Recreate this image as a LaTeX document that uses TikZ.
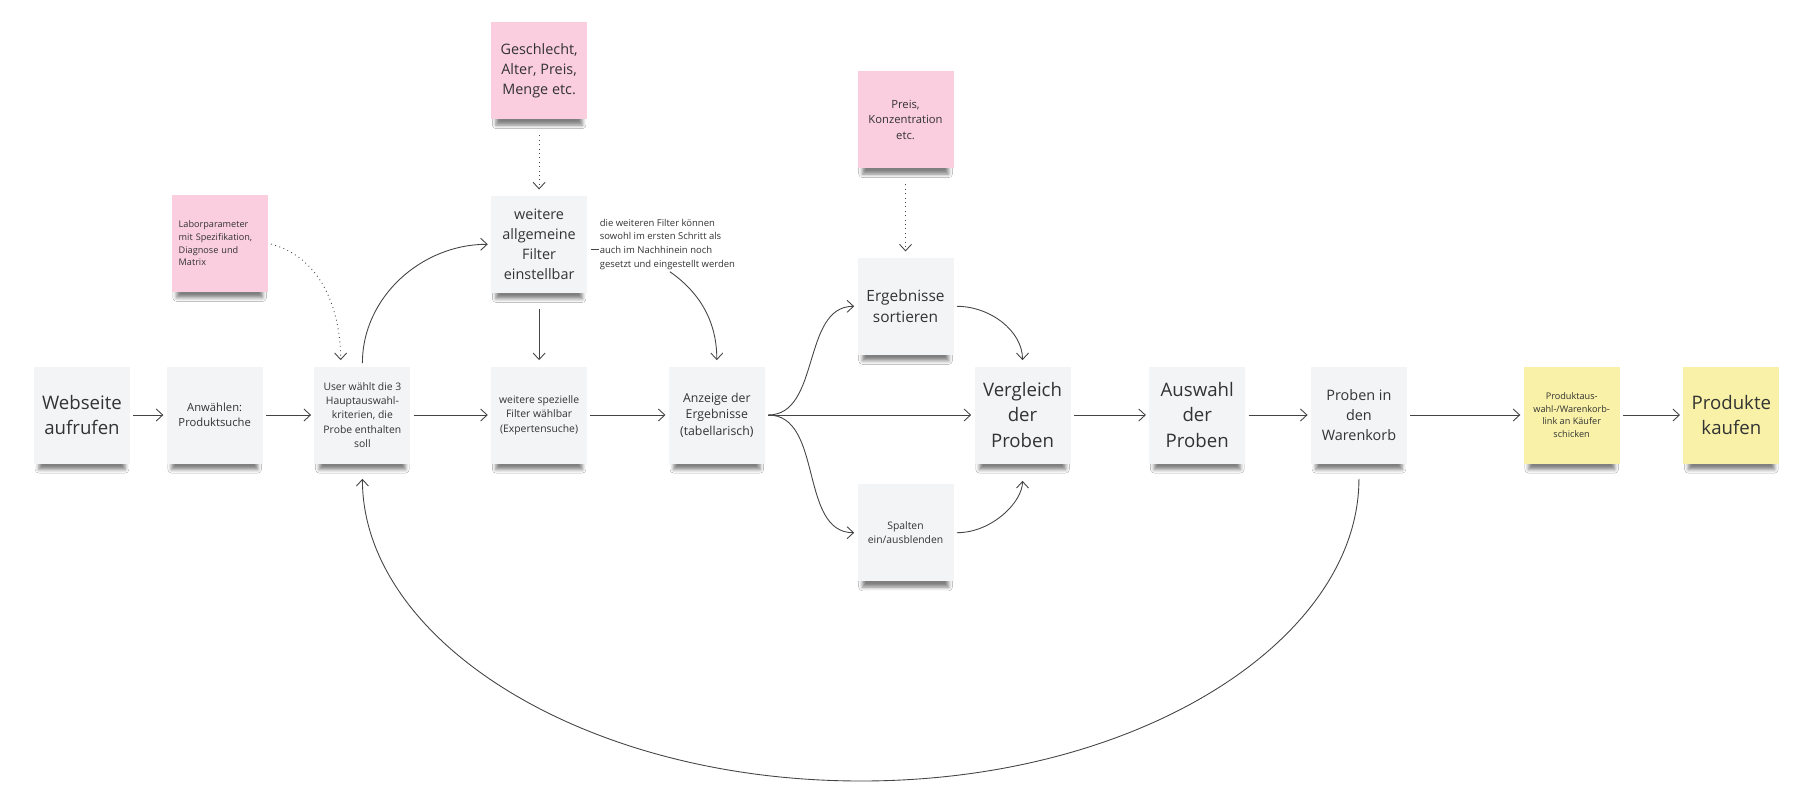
\documentclass[tikz,border=0pt]{standalone}
\usepackage{fontspec}
\setmainfont{Open Sans}
\usetikzlibrary{arrows.meta, positioning, shadows.blur}
\definecolor{cardgrey}{HTML}{F3F4F5}
\definecolor{notepink}{HTML}{FACDDF}
\definecolor{noteyellow}{HTML}{F8F1A7}
\definecolor{textgrey}{HTML}{333333}
\definecolor{linegrey}{HTML}{444444}
\tikzset{
  card/.style={rectangle, fill=cardgrey, align=center, text=textgrey,
    minimum width=19.2mm, minimum height=19.4mm, inner sep=1mm,
    blur shadow={shadow xshift=0mm, shadow yshift=-2.4mm, shadow scale=0.9,
      shadow blur radius=0.8mm, shadow opacity=50}},
  pinkcard/.style={card, fill=notepink},
  yellowcard/.style={card, fill=noteyellow},
  big/.style={font=\fontsize{10.6}{14.6}\selectfont},
  mid/.style={font=\fontsize{8.2}{11.3}\selectfont},
  sml/.style={font=\fontsize{6.4}{8.8}\selectfont},
  tiny/.style={font=\fontsize{5.9}{8.2}\selectfont},
  notetext/.style={align=left, inner sep=0pt, text=textgrey,
    font=\fontsize{5.4}{7.8}\selectfont},
  line/.style={-{Straight Barb[length=1.3mm, width=2.4mm]}, draw=linegrey,
    line width=0.5pt, shorten <=0.6mm, shorten >=0.6mm},
  dotline/.style={line, dotted}
}

\begin{document}
\begin{tikzpicture}[x=0.2mm, y=0.2mm]
\fill[white] (0,0) rectangle (1800,-796);
\useasboundingbox (0,0) rectangle (1800,-796);

% ---- hauptreihe ----
\node[card, big] (web) at (82,-415) {Webseite\\aufrufen};
\node[card, sml, right=7.2mm of web] (anw) {Anwählen:\\Produktsuche};
\node[card, tiny, right=10.2mm of anw] (user) {User wählt die 3\\Hauptauswahl-\\kriterien, die\\Probe enthalten\\soll};
\node[card, tiny, right=16mm of user] (spez) {weitere spezielle\\Filter wählbar\\(Expertensuche)};
\node[card, font=\fontsize{7}{9.5}\selectfont, right=16.2mm of spez] (anz) {Anzeige der\\Ergebnisse\\(tabellarisch)};
\node[card, big, right=41.8mm of anz] (vgl) {Vergleich\\der\\Proben};
\node[card, big, right=15.6mm of vgl] (ausw) {Auswahl\\der\\Proben};
\node[card, mid, right=13mm of ausw] (korb) {Proben in\\den\\Warenkorb};
\node[yellowcard, font=\fontsize{5.2}{7.2}\selectfont, right=23.2mm of korb] (link) {Produktaus-\\wahl-/Warenkorb-\\link an Käufer\\schicken};
\node[yellowcard, big, right=12.6mm of link] (kauf) {Produkte\\kaufen};

% ---- filter oben ----
\node[card, mid, above=14.6mm of spez] (allg) {weitere\\allgemeine\\Filter\\einstellbar};
\node[pinkcard, mid, above=15.2mm of allg] (geschl) {Geschlecht,\\Alter, Preis,\\Menge etc.};
\node[pinkcard, align=left, text width=16.4mm, inner xsep=1.4mm,
  font=\fontsize{5.2}{7.3}\selectfont, above=14.8mm of anw, xshift=1mm] (labor)
  {Laborparameter\\mit Spezifikation,\\Diagnose und\\Matrix};
\node[notetext, right=2.4mm of allg] (notiz) {die weiteren Filter können\\sowohl im ersten Schritt als\\auch im Nachhinein noch\\gesetzt und eingestellt werden};

% ---- ergebnisse ----
\node[card, font=\fontsize{8.8}{12.3}\selectfont, above right=2.2mm and 18.4mm of anz] (sort) {Ergebnisse\\sortieren};
\node[card, tiny, below right=4mm and 18.4mm of anz] (spalt) {Spalten\\ein/ausblenden};
\node[pinkcard, sml, above=17.8mm of sort] (preis) {Preis,\\Konzentration\\etc.};

% ---- verbindungen ----
\draw[line] (web) -- (anw);
\draw[line] (anw) -- (user);
\draw[line] (user) -- (spez);
\draw[line] (spez) -- (anz);
\draw[line] (anz) -- (vgl);
\draw[line] (vgl) -- (ausw);
\draw[line] (ausw) -- (korb);
\draw[line] (korb) -- (link);
\draw[line] (link) -- (kauf);

\draw[line] (user.north) to[out=90, in=180] (allg.west);
\draw[line, shorten <=3.2mm, shorten >=1.2mm] (allg) -- (spez);
\draw[dotline, shorten <=3.2mm, shorten >=1.2mm] (geschl) -- (allg);
\draw[dotline, shorten <=3.2mm, shorten >=1.2mm] (preis) -- (sort);
\draw[dotline, shorten >=1.2mm] (labor.east) to[out=-15, in=90] (user.114);

\draw[draw=linegrey, line width=0.5pt] ([xshift=0.8mm, yshift=-1mm]allg.east) -- ([yshift=-1mm]notiz.west);
\draw[line, shorten >=1.2mm] (notiz.south) to[out=-35, in=90] (anz.north);

\draw[line] (anz.east) to[out=0, in=180] (sort.west);
\draw[line] (anz.east) to[out=0, in=180] (spalt.west);
\draw[line, shorten >=1.2mm] (sort.east) to[out=0, in=90] (vgl.north);
\draw[line, shorten >=3.4mm] (spalt.east) to[out=0, in=-90] (vgl.south);

% ---- rueckweg ----
\coordinate (unten) at (861,-781);
\draw[line, shorten <=3mm, shorten >=3mm] (korb.south) .. controls +(0,-175) and +(280,0) .. (unten)
  .. controls +(-280,0) and +(0,-175) .. (user.south);

\end{tikzpicture}
\end{document}
